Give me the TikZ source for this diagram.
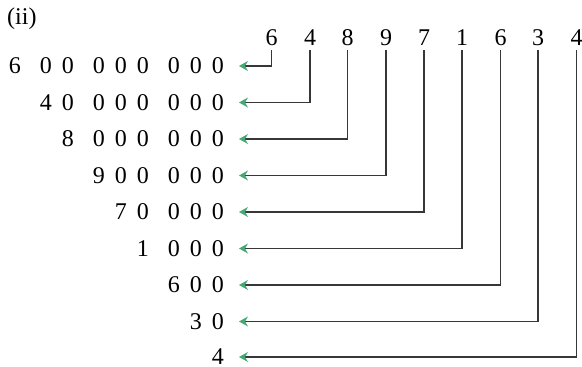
\documentclass[tikz,border=0pt]{standalone}
\usepackage{fontspec}
\setmainfont{Liberation Serif}
\usetikzlibrary{arrows.meta}
\definecolor{arrowgreen}{RGB}{70,168,115}
\definecolor{linegray}{RGB}{55,55,55}
\newcommand\ds{\hspace{10pt}}
\newcommand\gs{\hspace{19pt}}
\begin{document}
\begin{tikzpicture}[x=1pt,y=1pt,
  every node/.style={font=\fontsize{24}{28}\selectfont},
  topdigit/.style={inner sep=0pt, anchor=center},
  rownum/.style={inner sep=0pt, anchor=east},
  conn/.style={draw=linegray, line width=1.2pt, -{Stealth[color=arrowgreen,length=9pt,width=10pt,inset=3pt]}}
]
\useasboundingbox (0,0) rectangle (582,-367);
\node[inner sep=0pt, anchor=west] (lbl) at (7,-19) {(ii)};
% top digits
\foreach \d/\x [count=\i] in {6/271.7,4/310,8/347.7,9/386,7/424,1/462,6/500.7,3/538,4/576.7}
  \node[topdigit] (t\i) at (\x,-38) {\d};
% rows
\node[rownum] (r1) at (224,-66) {6\gs0\ds0\gs0\ds0\ds0\gs0\ds0\ds0};
\node[rownum] (r2) at (224,-102.5) {4\ds0\gs0\ds0\ds0\gs0\ds0\ds0};
\node[rownum] (r3) at (224,-139) {8\gs0\ds0\ds0\gs0\ds0\ds0};
\node[rownum] (r4) at (224,-175.5) {9\ds0\ds0\gs0\ds0\ds0};
\node[rownum] (r5) at (224,-212) {7\ds0\gs0\ds0\ds0};
\node[rownum] (r6) at (224,-248.5) {1\gs0\ds0\ds0};
\node[rownum] (r7) at (224,-285) {6\ds0\ds0};
\node[rownum] (r8) at (224,-321.5) {3\ds0};
\node[rownum] (r9) at (224,-357) {4};
% connectors
\foreach \i in {1,...,9}{
  \coordinate (a\i) at ([xshift=15pt]r\i.east);
  \draw[conn] ([yshift=-4pt]t\i.south) |- (a\i);
}
\end{tikzpicture}
\end{document}
